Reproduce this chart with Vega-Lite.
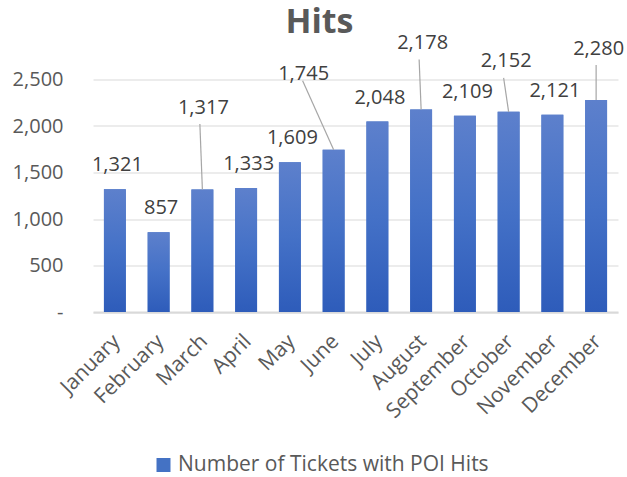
{
  "$schema": "https://vega.github.io/schema/vega-lite/v6.json",
  "width": 525,
  "height": 232.5,
  "autosize": {"type": "none"},
  "padding": {"left": 93, "top": 79.5, "right": 9, "bottom": 165},
  "background": "white",
  "config": {"view": {"stroke": null}, "font": "Open Sans"},
  "title": {"text": "Hits", "font": "Open Sans", "fontSize": 34, "fontWeight": "bold", "color": "#595959", "anchor": "middle", "dx": -36, "baseline": "alphabetic", "offset": -34},
  "data": {"values": [
    {"month": "January", "hits": 1321, "series": "Number of Tickets with POI Hits"},
    {"month": "February", "hits": 857, "series": "Number of Tickets with POI Hits"},
    {"month": "March", "hits": 1317, "series": "Number of Tickets with POI Hits"},
    {"month": "April", "hits": 1333, "series": "Number of Tickets with POI Hits"},
    {"month": "May", "hits": 1609, "series": "Number of Tickets with POI Hits"},
    {"month": "June", "hits": 1745, "series": "Number of Tickets with POI Hits"},
    {"month": "July", "hits": 2048, "series": "Number of Tickets with POI Hits"},
    {"month": "August", "hits": 2178, "series": "Number of Tickets with POI Hits"},
    {"month": "September", "hits": 2109, "series": "Number of Tickets with POI Hits"},
    {"month": "October", "hits": 2152, "series": "Number of Tickets with POI Hits"},
    {"month": "November", "hits": 2121, "series": "Number of Tickets with POI Hits"},
    {"month": "December", "hits": 2280, "series": "Number of Tickets with POI Hits"}
  ]},
  "encoding": {
    "x": {"field": "month", "type": "nominal", "sort": null,
      "scale": {"paddingInner": 0.5, "paddingOuter": 0.25},
      "axis": {"title": null, "labelAngle": -45, "labelAlign": "right", "labelBaseline": "middle", "labelFontSize": 21, "labelFont": "Open Sans", "labelColor": "#595959", "ticks": false, "domainColor": "#d9d9d9", "domainWidth": 2, "labelPadding": 26, "labelOffset": 2, "grid": false}},
    "y": {"field": "hits", "type": "quantitative",
      "scale": {"domain": [0, 2500], "nice": false},
      "axis": {"title": null, "values": [0, 500, 1000, 1500, 2000, 2500], "labelExpr": "datum.value === 0 ? '-\u00a0\u00a0' : format(datum.value, ',')", "domain": false, "ticks": false, "gridColor": "#d9d9d9", "gridWidth": 1, "labelPadding": 30, "labelFontSize": 20, "labelFont": "Open Sans", "labelColor": "#595959"}}
  },
  "layer": [
    {"mark": {"type": "bar"},
     "encoding": {"color": {"field": "series", "type": "nominal", "scale": {"range": ["#4472c4"]},
       "legend": {"title": null, "orient": "none", "legendX": 60, "legendY": 375, "symbolType": "square", "symbolSize": 196, "symbolStrokeWidth": 0, "labelFontSize": 21, "labelFont": "Open Sans", "labelColor": "#595959", "labelLimit": 400}}}},
    {"mark": {"type": "bar", "fill": {"gradient": "linear", "x1": 0, "y1": 0, "x2": 0, "y2": 1, "stops": [{"offset": 0, "color": "#5d80cc"}, {"offset": 0.5, "color": "#4471c7"}, {"offset": 1, "color": "#2e5cba"}]}}},
    {"transform": [{"filter": "indexof(['March','June','August','October','December'], datum.month) < 0"}],
     "mark": {"type": "text", "baseline": "alphabetic", "dy": -18, "dx": 2.5, "fontSize": 20, "font": "Open Sans", "fill": "#404040"},
     "encoding": {"text": {"field": "hits", "type": "quantitative", "format": ","}}},
    {"transform": [{"filter": "datum.month === 'March'"}],
     "mark": {"type": "text", "baseline": "alphabetic", "dy": -76, "dx": 1, "fontSize": 20, "font": "Open Sans", "fill": "#404040"},
     "encoding": {"text": {"field": "hits", "type": "quantitative", "format": ","}}},
    {"transform": [{"filter": "datum.month === 'June'"}],
     "mark": {"type": "text", "baseline": "alphabetic", "dy": -70, "dx": -30, "fontSize": 20, "font": "Open Sans", "fill": "#404040"},
     "encoding": {"text": {"field": "hits", "type": "quantitative", "format": ","}}},
    {"transform": [{"filter": "datum.month === 'August'"}],
     "mark": {"type": "text", "baseline": "alphabetic", "dy": -60, "dx": 1.5, "fontSize": 20, "font": "Open Sans", "fill": "#404040"},
     "encoding": {"text": {"field": "hits", "type": "quantitative", "format": ","}}},
    {"transform": [{"filter": "datum.month === 'October'"}],
     "mark": {"type": "text", "baseline": "alphabetic", "dy": -45, "dx": -2.5, "fontSize": 20, "font": "Open Sans", "fill": "#404040"},
     "encoding": {"text": {"field": "hits", "type": "quantitative", "format": ","}}},
    {"transform": [{"filter": "datum.month === 'December'"}],
     "mark": {"type": "text", "baseline": "alphabetic", "dy": -45, "dx": 2.5, "fontSize": 20, "font": "Open Sans", "fill": "#404040"},
     "encoding": {"text": {"field": "hits", "type": "quantitative", "format": ","}}},
    {"transform": [{"filter": "datum.month === 'March'"}],
     "mark": {"type": "rule", "stroke": "#a6a6a6", "strokeWidth": 1.2, "y2Offset": -65.5, "x2Offset": -2.5},
     "encoding": {"x2": {"field": "month"}, "y2": {"field": "hits"}}},
    {"transform": [{"filter": "datum.month === 'June'"}],
     "mark": {"type": "rule", "stroke": "#a6a6a6", "strokeWidth": 1.2, "y2Offset": -69, "x2Offset": -31},
     "encoding": {"x2": {"field": "month"}, "y2": {"field": "hits"}}},
    {"transform": [{"filter": "datum.month === 'August'"}],
     "mark": {"type": "rule", "stroke": "#a6a6a6", "strokeWidth": 1.2, "y2Offset": -50, "x2Offset": -2},
     "encoding": {"x2": {"field": "month"}, "y2": {"field": "hits"}}},
    {"transform": [{"filter": "datum.month === 'October'"}],
     "mark": {"type": "rule", "stroke": "#a6a6a6", "strokeWidth": 1.2, "y2Offset": -34, "x2Offset": -5},
     "encoding": {"x2": {"field": "month"}, "y2": {"field": "hits"}}},
    {"transform": [{"filter": "datum.month === 'December'"}],
     "mark": {"type": "rule", "stroke": "#a6a6a6", "strokeWidth": 1.2, "y2Offset": -35, "x2Offset": 0},
     "encoding": {"x2": {"field": "month"}, "y2": {"field": "hits"}}}
  ]
}
